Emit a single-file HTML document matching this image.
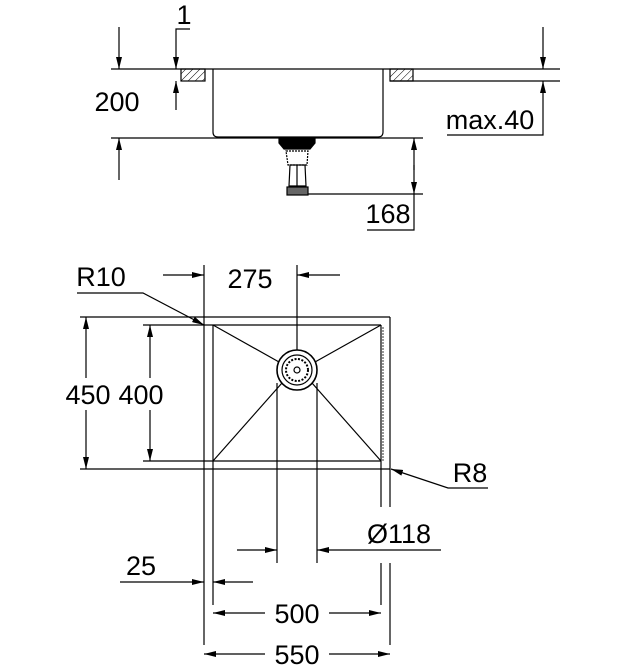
<!DOCTYPE html>
<html><head><style>body{margin:0;background:#fff}svg{display:block}text{font-family:"Liberation Sans",sans-serif;font-size:27px;fill:#000;text-anchor:middle}</style></head><body>
<svg width="625" height="670" viewBox="0 0 625 670" xmlns="http://www.w3.org/2000/svg">
<defs>
<marker id="a" viewBox="0 0 12 6" refX="12" refY="3" markerWidth="12" markerHeight="6" orient="auto" markerUnits="userSpaceOnUse"><path d="M0,0L12,3L0,6z" fill="#000"/></marker>
<pattern id="h" width="5" height="5" patternUnits="userSpaceOnUse" patternTransform="rotate(45)"><line x1="0" y1="0" x2="0" y2="5" stroke="#000" stroke-width="1"/></pattern>
</defs>
<g stroke="#000" stroke-width="1.2" fill="none">
<line x1="111" y1="69" x2="560" y2="69"/>
<line x1="390" y1="81" x2="560" y2="81"/>
<rect x="181" y="69" width="24" height="12" fill="url(#h)"/>
<rect x="390" y="69" width="23" height="12" fill="url(#h)"/>
<path d="M213,69V132Q213,137 218,137H378Q383,137 383,132V69"/>
<line x1="111" y1="138" x2="423" y2="138"/>
<line x1="119" y1="27" x2="119" y2="69" marker-end="url(#a)"/>
<line x1="119" y1="180" x2="119" y2="138" marker-end="url(#a)"/>
<polyline points="190,29 176,29 176,69" marker-end="url(#a)"/>
<line x1="176" y1="110" x2="176" y2="81" marker-end="url(#a)"/>
<line x1="543" y1="27" x2="543" y2="69" marker-end="url(#a)"/>
<polyline points="447,135 543,135 543,81" marker-end="url(#a)"/>
<line x1="290" y1="194" x2="423" y2="194"/>
<line x1="414" y1="170" x2="414" y2="138" marker-end="url(#a)"/>
<line x1="414" y1="165" x2="414" y2="194" marker-end="url(#a)"/>
<polyline points="414,194 414,230 367,230"/>
<path d="M279,139H315V143L310,149H284L279,143Z" fill="#000"/>
<path d="M286,151H308L307,165H288Z" stroke-dasharray="2,1"/>
<path d="M290,165H305L306,186H289Z"/>
<line x1="297" y1="165" x2="297" y2="186"/>
<rect x="287" y="187" width="21" height="8" fill="#666"/>
<line x1="80" y1="317" x2="390" y2="317"/>
<line x1="390" y1="317" x2="390" y2="507"/>
<line x1="390" y1="563" x2="390" y2="645"/>
<line x1="80" y1="469" x2="390" y2="469"/>
<line x1="204" y1="265" x2="204" y2="645"/>
<line x1="143" y1="325" x2="381" y2="325"/>
<line x1="143" y1="461" x2="381" y2="461"/>
<line x1="213" y1="325" x2="213" y2="605"/>
<line x1="381" y1="325" x2="381" y2="507"/>
<line x1="381" y1="563" x2="381" y2="605"/>
<line x1="383" y1="327" x2="383" y2="461" stroke-width="0.8" stroke-dasharray="2,1"/>
<line x1="213" y1="325" x2="279" y2="362"/>
<line x1="381" y1="325" x2="315" y2="362"/>
<line x1="213" y1="461" x2="282" y2="383"/>
<line x1="381" y1="461" x2="312" y2="383"/>
<circle cx="297" cy="370" r="20" stroke-width="1.6"/>
<circle cx="297" cy="370" r="15"/>
<circle cx="297" cy="370" r="11" stroke-dasharray="2,1.5" stroke-width="2"/>
<circle cx="297" cy="370" r="3"/>
<line x1="297" y1="265" x2="297" y2="350"/>
<line x1="277" y1="383" x2="277" y2="563"/>
<line x1="317" y1="383" x2="317" y2="563"/>
<line x1="163" y1="275" x2="204" y2="275" marker-end="url(#a)"/>
<line x1="340" y1="275" x2="297" y2="275" marker-end="url(#a)"/>
<polyline points="77,293 143,293 204,325" marker-end="url(#a)"/>
<line x1="86" y1="378" x2="86" y2="317" marker-end="url(#a)"/>
<line x1="86" y1="410" x2="86" y2="469" marker-end="url(#a)"/>
<line x1="150" y1="378" x2="150" y2="325" marker-end="url(#a)"/>
<line x1="150" y1="410" x2="150" y2="461" marker-end="url(#a)"/>
<polyline points="488,488 448,488 391,469" marker-end="url(#a)"/>
<line x1="237" y1="550" x2="277" y2="550" marker-end="url(#a)"/>
<line x1="441" y1="550" x2="317" y2="550" marker-end="url(#a)"/>
<line x1="120" y1="582" x2="204" y2="582" marker-end="url(#a)"/>
<line x1="253" y1="582" x2="213" y2="582" marker-end="url(#a)"/>
<line x1="265" y1="613" x2="213" y2="613" marker-end="url(#a)"/>
<line x1="329" y1="613" x2="381" y2="613" marker-end="url(#a)"/>
<line x1="265" y1="654" x2="204" y2="654" marker-end="url(#a)"/>
<line x1="329" y1="654" x2="390" y2="654" marker-end="url(#a)"/>
</g>
<text x="184" y="24">1</text>
<text x="117" y="111">200</text>
<text x="490" y="129">max.40</text>
<text x="388" y="223">168</text>
<text x="101" y="286">R10</text>
<text x="250" y="288">275</text>
<text x="88" y="404">450</text>
<text x="141" y="404">400</text>
<text x="470" y="482">R8</text>
<text x="399" y="543">Ø118</text>
<text x="141" y="575">25</text>
<text x="297" y="623">500</text>
<text x="297" y="664">550</text>
</svg>
</body></html>
